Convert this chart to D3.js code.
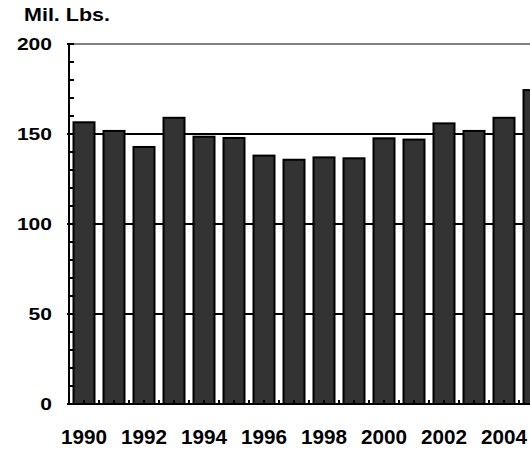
<!DOCTYPE html>
<html><head><meta charset="utf-8">
<script src="https://cdn.jsdelivr.net/npm/d3@7"></script>
<style>body{margin:0;background:#fff;}svg{display:block;font-family:"Liberation Sans",Arial,sans-serif;font-weight:bold;}</style>
</head><body>
<script>
const years = [1990,1991,1992,1993,1994,1995,1996,1997,1998,1999,2000,2001,2002,2003,2004,2005];
const values = [156.5,151.7,142.8,159,148.5,147.8,138,135.7,137,136.5,147.6,146.9,155.9,151.7,159,174.4];
const yTicks = [0,50,100,150,200];
const yLabel = "Mil. Lbs.";

const W = 530, H = 450;
const svg = d3.select("body").append("svg").attr("width", W).attr("height", H);
const x0 = 69, y0 = 404, yTop = 44;
const x = d3.scaleBand().domain(years).range([x0, x0 + 30*years.length]).paddingInner(0.3).paddingOuter(0.15);
const y = d3.scaleLinear().domain([0,200]).range([y0, yTop]);

// gridlines
svg.append("g").selectAll("line").data(yTicks.filter(d=>d>0)).join("line")
  .attr("x1", x0).attr("x2", W).attr("y1", d=>y(d)).attr("y2", d=>y(d))
  .attr("stroke", d=>d===200?"#808080":"#000").attr("stroke-width", 2);

// bars
svg.append("g").selectAll("rect").data(years).join("rect")
  .attr("x", d=>x(d)).attr("width", x.bandwidth())
  .attr("y", (d,i)=>y(values[i])).attr("height", (d,i)=>y(0)-y(values[i]))
  .attr("fill", "#333333").attr("stroke", "#000").attr("stroke-width", 2);

// y axis
const yMinor = d3.range(0, 201, 10);
const ya = svg.append("g").attr("transform", `translate(${x0},0)`);
ya.append("line").attr("x1",0).attr("x2",0).attr("y1",y(200)).attr("y2",y(0)).attr("stroke","#000").attr("stroke-width",2);
ya.selectAll("line.t").data(yMinor).join("line").attr("class","t")
  .attr("x1", d=>d%50===0?-2:0).attr("x2", 5).attr("y1", d=>y(d)).attr("y2", d=>y(d))
  .attr("stroke","#000").attr("stroke-width",2);
ya.selectAll("text").data(yTicks).join("text")
  .attr("x", -17).attr("y", d=>y(d)).attr("dy","0.35em").attr("text-anchor","end")
  .attr("font-size", 17)
  .attr("textLength", d=>String(d).length*11.7).attr("lengthAdjust","spacingAndGlyphs")
  .text(d=>d);

// x axis
const xa = svg.append("g");
xa.append("line").attr("x1", x0).attr("x2", W).attr("y1", y0).attr("y2", y0).attr("stroke","#000").attr("stroke-width",2);
const step = x.step();
const tickPos = [];
years.forEach(yr => { tickPos.push(x(yr) + x.bandwidth()/2); tickPos.push(x(yr) + x.bandwidth()/2 + step/2); });
xa.selectAll("line.t").data(tickPos).join("line").attr("class","t")
  .attr("x1", d=>d).attr("x2", d=>d).attr("y1", y0).attr("y2", y0-4)
  .attr("stroke","#000").attr("stroke-width",2);
xa.selectAll("text").data(years.filter(d=>d%2===0)).join("text")
  .attr("x", d=>x(d)+x.bandwidth()/2).attr("y", 444).attr("text-anchor","middle")
  .attr("font-size", 20)
  .attr("textLength", 46).attr("lengthAdjust","spacingAndGlyphs")
  .text(d=>d);

svg.append("text").attr("x", 24).attr("y", 21).attr("font-size", 18)
  .attr("textLength", 86).attr("lengthAdjust","spacingAndGlyphs").text(yLabel);
</script>
</body></html>
